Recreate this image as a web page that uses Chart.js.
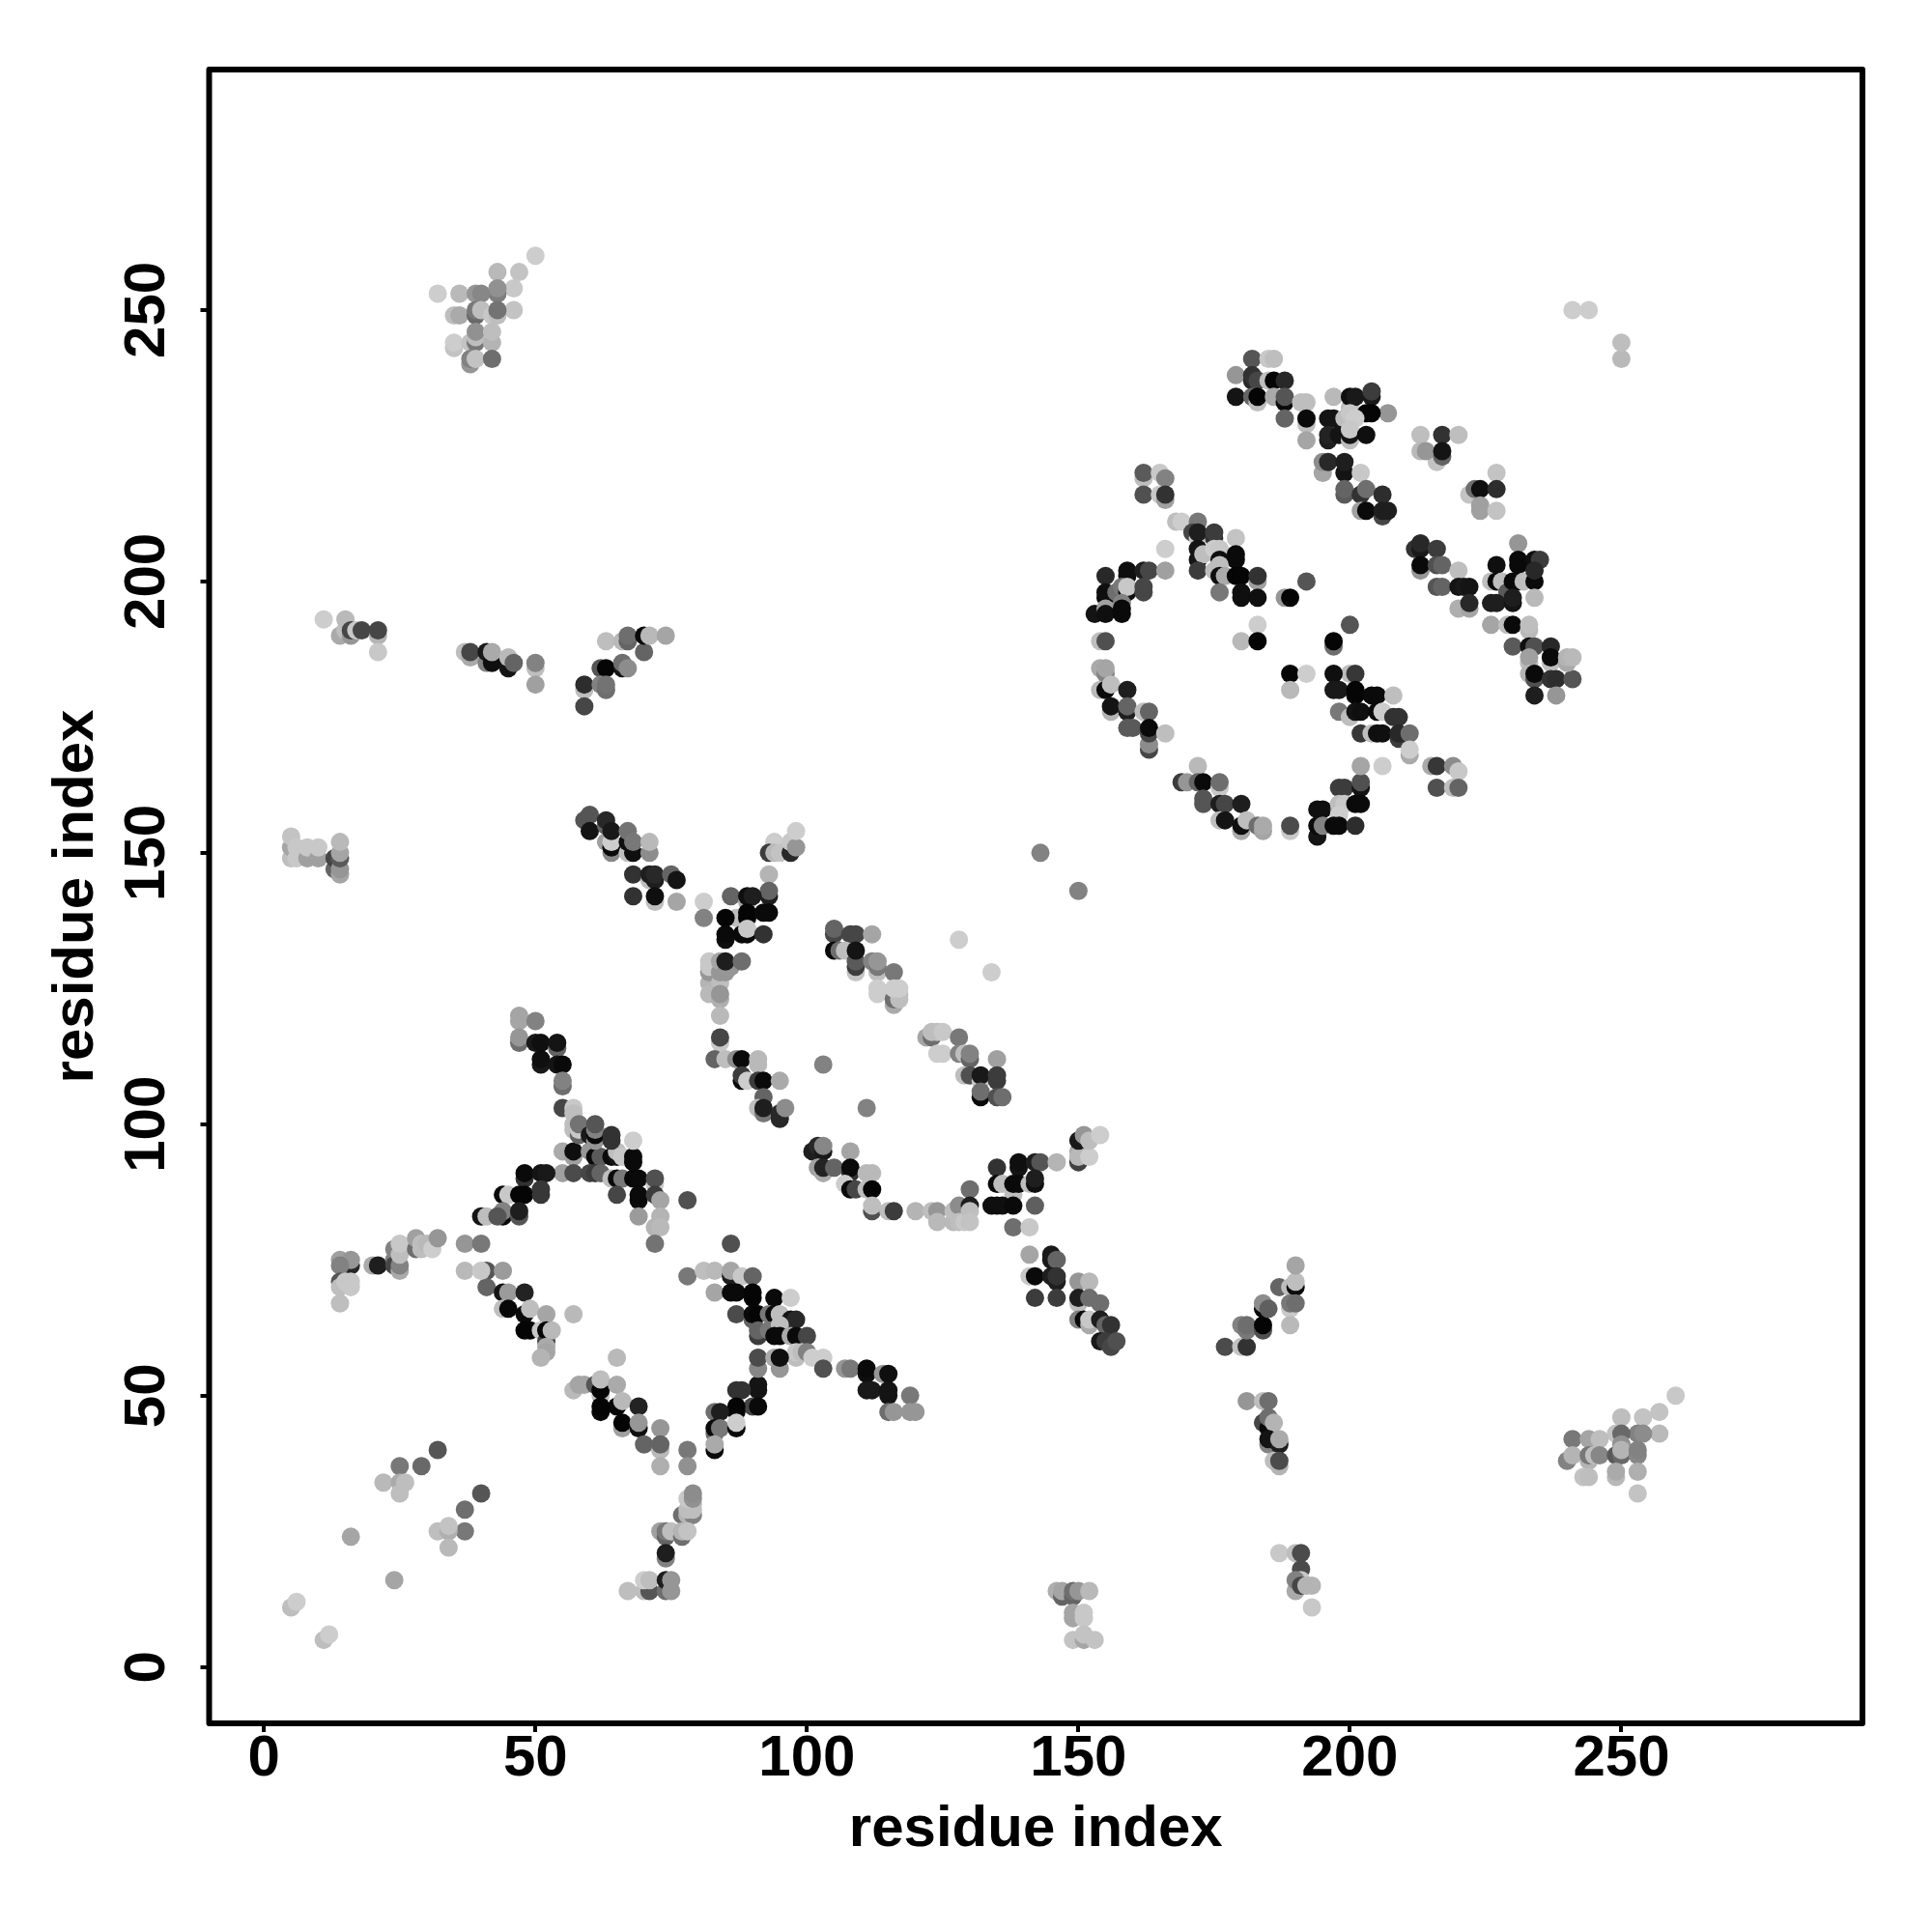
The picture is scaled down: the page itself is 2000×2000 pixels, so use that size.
<!DOCTYPE html>
<html>
<head>
<meta charset="utf-8">
<title>residue contacts</title>
<script src="https://cdn.jsdelivr.net/npm/chart.js@4"></script>
<style>
  html, body { margin: 0; background: #fff; }
  canvas { display: block; }
</style>
</head>
<body>
<div style="width:2000px;height:2000px"><canvas id="chart"></canvas></div>
<script>
// tick values, axis title
const tickValues = [0, 50, 100, 150, 200, 250];
const axisTitle = 'residue index';

// contacts, cluster by cluster: [residue x, residue y, grey level]
// order inside a cluster is paint order
const lowerCorner = [[5,11,190],[6,12,205],[11,5,190],[12,6,205],[24,16,165],[16,24,165],[32,40,85],[29,37,105],[25,37,120],[22,34,185],[25,34,170],[25,32,190],[26,34,190],[40,32,85],[37,29,110],[37,25,120],[32,25,190],[34,25,175],[34,26,195],[34,22,185]];
const armA = [[14,67,190],[14,75,160],[16,74,40],[16,75,150],[14,74,130],[14,71,85],[14,70,190],[15,71,200],[16,70,200],[16,71,200],[20,74,170],[21,74,30],[24,77,130],[24,75,130],[24,74,70],[25,73,170],[25,74,130],[25,76,190],[25,78,200],[28,77,110],[28,79,160],[29,77,190],[29,78,190],[30,78,185],[31,77,205],[32,79,150],[37,78,150],[40,78,120],[37,73,185],[40,73,200]];
const armB = [[41,73,85],[44,73,155],[41,70,100],[44,69,20],[45,69,155],[48,69,35],[44,66,190],[45,66,8],[48,65,10],[49,66,190],[52,65,165],[48,62,5],[49,62,5],[51,62,200],[52,60,70],[52,62,5],[53,62,185],[52,59,170],[52,58,165],[51,57,180],[57,65,185],[65,57,185]];
const armC = [[57,51,185],[58,52,165],[59,52,165],[61,52,85],[62,50,190],[62,51,5],[62,53,190],[62,47,8],[62,48,5],[65,52,170],[65,48,5],[66,49,185],[69,48,35],[66,44,160],[66,45,5],[69,44,15],[69,45,150],[73,44,150],[70,41,100],[73,40,185],[73,41,100],[73,37,175],[78,40,120],[78,37,145]];
const stemA = [[77,28,110],[78,28,180],[79,28,130],[78,29,190],[79,29,190],[79,30,190],[78,31,200],[79,31,145],[79,32,140],[73,25,160],[74,24,100],[74,25,120],[75,25,190],[77,24,110],[77,25,180],[78,25,195],[74,20,130],[74,21,30],[67,14,190],[70,14,190],[71,14,85],[70,16,205],[71,16,190],[74,14,110],[74,16,30],[75,14,150],[75,16,150]];
const patchA = [[47,120,165],[47,119,165],[50,119,130],[47,115,110],[47,116,150],[50,115,25],[51,115,15],[54,114,100],[54,115,20],[51,111,25],[51,112,15],[54,111,20],[55,111,10],[55,107,110],[55,108,130],[55,103,70],[57,103,200],[57,102,190],[57,99,190],[57,100,190],[58,98,100],[58,99,200],[58,100,115],[60,98,25],[61,97,150],[61,98,10],[61,99,130],[61,100,85],[64,97,50],[64,98,50],[68,97,205]];
const patchB = [[55,95,170],[57,94,160],[57,95,15],[55,91,160],[57,91,75],[60,95,150],[61,94,10],[62,94,90],[60,91,70],[61,91,60],[62,91,100],[64,94,10],[65,94,20],[65,95,190],[66,94,200],[68,93,10],[68,94,10],[64,90,190],[65,90,10],[66,90,120],[68,90,8],[69,90,10],[72,89,200],[72,90,80],[65,87,70],[69,86,12],[69,87,10],[72,87,60],[73,86,165],[69,83,155],[73,83,180],[72,81,180],[73,81,185],[72,78,115],[78,86,80]];
const patchC = [[48,90,50],[48,91,10],[51,91,20],[52,91,25],[44,87,10],[45,87,200],[47,87,5],[48,87,5],[51,88,55],[51,87,55],[44,83,10],[44,84,130],[47,83,85],[47,84,30],[40,83,20],[41,83,190],[43,83,85]];
const patchD = [[78,72,120],[81,73,190],[83,73,185],[86,72,30],[86,73,165],[88,72,200],[90,72,100],[86,78,80],[83,69,165],[86,69,10],[87,69,10],[90,68,5],[90,69,5],[94,68,10],[97,68,205],[87,65,75],[90,64,100],[90,65,10],[91,65,5],[93,65,120],[94,65,10],[95,65,190],[97,64,20],[98,64,40],[91,61,60],[91,62,100],[93,62,120],[95,63,190],[94,61,10],[95,61,10],[97,61,170],[98,61,10],[100,61,70],[98,57,190],[98,58,200],[99,58,190],[100,58,130],[101,57,205],[103,57,205],[91,55,135],[91,57,75],[94,57,170],[95,55,150],[95,57,15],[103,55,80],[107,55,150],[108,55,120],[111,54,15],[111,55,10],[114,54,150],[115,54,15],[111,51,25],[112,51,25],[115,50,20],[115,51,20],[119,50,120],[115,47,110],[116,47,150],[119,47,150],[120,47,150]];
const patchE = [[91,51,20],[91,52,20],[87,51,50],[88,51,50],[90,48,70],[91,48,10],[87,47,5],[87,48,5],[83,47,110],[84,47,30],[83,43,110],[83,44,10],[84,44,120],[87,44,10],[87,45,205],[83,40,10],[83,41,170]];
const rowTop = [[59,156,85],[60,157,85],[60,154,20],[63,155,100],[63,156,40],[63,152,160],[64,150,135],[64,151,10],[64,152,205],[64,154,25],[67,150,190],[67,152,15],[67,154,115],[68,150,15],[68,152,120],[71,150,140],[71,152,185],[68,146,50],[71,145,190],[71,146,30],[72,145,30],[72,146,40],[75,146,100],[76,145,20],[68,142,50],[72,141,190],[72,142,15],[76,141,165],[81,141,205],[81,138,130]];
const bowA = [[94,152,205],[93,150,60],[94,150,185],[95,150,195],[97,150,40],[97,152,200],[98,151,150],[98,154,205],[93,146,180],[93,142,30],[93,143,100],[86,142,100],[89,141,170],[89,142,15],[90,142,30],[87,138,190],[85,138,5],[89,139,5],[89,138,5],[92,139,10],[93,139,10],[85,134,15],[85,135,10],[88,135,10],[89,135,10],[89,136,200],[92,135,50]];
const bowB = [[82,126,180],[82,128,150],[82,129,200],[82,130,200],[84,126,190],[84,128,150],[84,130,165],[86,129,150],[85,128,150],[85,130,30],[88,130,110],[82,124,185],[84,123,175],[84,124,150],[84,120,185],[84,115,200],[84,116,70],[83,112,100],[85,112,190],[87,112,140],[88,112,10],[91,111,185],[91,112,185],[88,108,10],[88,109,60],[89,108,205],[91,108,60],[92,108,10],[95,108,170],[92,105,100],[91,103,190],[92,102,120],[92,103,30],[95,101,40],[95,102,40],[96,103,140],[103,111,130],[111,103,130]];
const arcA = [[105,135,70],[105,136,100],[108,135,70],[109,135,70],[112,135,165],[105,132,10],[106,132,110],[107,132,190],[109,128,195],[109,129,60],[109,130,90],[109,132,20],[112,130,130],[113,128,190],[113,129,120],[113,130,150],[116,128,120],[113,124,205],[113,125,205],[116,122,170],[116,123,110],[117,123,190],[117,124,190],[116,125,205],[117,125,205],[128,134,205],[134,128,205]];
const arcB = [[122,116,165],[123,116,110],[123,117,190],[124,117,190],[125,117,200],[128,116,120],[124,113,205],[125,113,205],[128,113,130],[129,113,190],[130,112,100],[130,113,130],[135,112,160],[129,109,190],[130,109,80],[132,108,200],[132,109,25],[135,108,60],[135,109,60],[132,105,10],[132,106,110],[135,105,80],[136,105,110]];
const arcC = [[101,95,30],[102,96,40],[103,95,25],[103,96,135],[108,95,165],[102,92,160],[103,91,170],[103,92,35],[105,92,100],[108,91,50],[108,92,10],[111,91,185],[112,91,185],[107,89,205],[108,88,10],[109,88,70],[111,88,190],[112,88,5],[112,84,80],[112,85,190],[115,84,190],[116,84,60],[120,84,180],[123,84,190],[124,84,150],[124,82,185],[127,82,185],[127,84,190],[128,85,140],[128,82,190],[130,88,110],[129,82,200],[130,85,30],[130,84,190],[130,82,195]];
const arcD = [[135,92,50],[139,92,20],[139,93,15],[142,93,30],[143,93,85],[146,93,180],[135,89,10],[136,89,190],[138,87,190],[138,89,10],[139,89,10],[141,89,190],[142,89,15],[142,90,30],[134,85,15],[135,85,15],[136,85,15],[138,85,10],[142,85,95],[138,81,110],[141,81,200],[150,95,170],[150,93,65],[150,94,185],[152,94,205],[150,97,25],[151,98,150],[152,97,190],[154,98,205],[143,150,130],[150,143,130]];
const rightA = [[141,76,165],[145,75,25],[145,76,25],[146,75,100],[141,72,200],[142,72,10],[146,71,30],[145,72,30],[146,72,50],[142,68,60],[146,68,60],[150,71,150],[152,71,185],[150,67,190],[150,68,30],[152,68,110],[154,67,110],[150,64,130],[151,64,10],[152,63,170],[152,64,200],[154,64,30],[155,63,100],[156,63,50],[154,60,25],[155,60,60],[156,59,70],[157,60,80]];
const rightB = [[177,59,75],[180,59,195],[181,59,50],[180,63,130],[181,62,120],[181,63,110],[184,62,80],[184,63,5],[184,66,10],[184,67,140],[185,66,95],[187,70,100],[189,70,190],[190,70,10],[190,71,190],[190,74,165],[189,66,200],[189,67,120],[190,67,110],[189,63,185]];
const rightC = [[181,49,150],[184,49,190],[185,49,110],[184,45,70],[185,44,10],[185,46,110],[186,45,180],[185,41,130],[185,42,20],[187,41,30],[187,42,170],[186,38,190],[187,37,180],[187,38,75]];
const rightD = [[187,21,200],[190,21,190],[191,21,75],[191,18,75],[191,16,200],[190,14,170],[190,16,130],[191,15,70],[192,15,180],[193,15,180],[193,11,200]];
const rightE = [[146,14,175],[147,13,100],[147,14,165],[149,13,100],[149,14,110],[150,14,150],[152,14,185],[149,9,165],[149,10,165],[151,9,200],[151,10,200],[149,5,195],[151,5,165],[151,6,195],[153,5,195]];
const farRight = [[260,50,200],[257,47,195],[254,46,195],[250,46,190],[257,43,185],[249,43,195],[253,43,130],[254,43,140],[250,43,105],[241,42,120],[244,42,165],[246,42,190],[250,41,145],[240,38,130],[241,39,180],[244,38,180],[244,39,120],[245,39,190],[246,39,135],[249,39,90],[250,39,105],[250,40,180],[253,39,135],[253,40,130],[253,36,175],[249,35,185],[249,36,170],[243,35,195],[244,35,190],[253,32,195]];
const topLeft = [[50,260,205],[47,257,195],[43,257,185],[46,254,200],[43,253,125],[43,254,145],[32,253,205],[36,253,185],[39,253,150],[40,253,135],[46,250,195],[35,249,190],[36,249,170],[39,249,105],[39,250,120],[40,250,190],[42,249,200],[43,249,190],[43,250,115],[35,243,195],[35,244,205],[38,244,195],[39,244,120],[39,245,190],[39,246,145],[42,244,180],[42,246,190],[38,240,150],[38,241,130],[39,241,195],[42,241,110]];
const leftRowA = [[11,193,205],[14,190,170],[15,191,190],[15,193,185],[16,190,150],[16,191,70],[17,191,200],[18,191,70],[21,190,180],[21,191,70],[21,187,200]];
const leftRowB = [[37,187,190],[38,186,170],[38,187,70],[41,185,130],[41,187,25],[42,185,15],[42,187,170],[45,184,20],[45,186,185],[46,185,100],[50,184,190],[50,185,130],[50,181,160]];
const leftRowC = [[63,189,190],[66,189,185],[67,189,100],[67,190,110],[70,187,100],[70,190,10],[71,190,185],[74,190,165],[62,184,85],[63,184,5],[66,184,20],[66,185,110],[67,184,140],[59,180,190],[59,181,45],[62,181,130],[63,180,110],[63,181,115],[59,177,70]];
const leftRowD = [[5,149,190],[5,151,165],[5,153,195],[6,149,200],[6,151,200],[8,149,160],[8,151,200],[10,149,160],[10,151,200],[13,147,100],[13,149,70],[14,146,165],[14,147,150],[14,149,90],[14,150,165],[14,152,185]];
const ringTop = [[182,241,85],[185,241,200],[186,241,190],[179,238,150],[182,237,40],[182,238,50],[183,237,70],[185,237,190],[186,237,5],[188,237,40],[179,234,20],[182,234,100],[183,233,190],[183,234,5],[186,234,170],[188,233,10],[188,234,85],[191,233,190],[192,233,190],[188,230,100],[192,229,190],[192,230,10],[192,226,165]];
const ringTopB = [[197,234,185],[200,232,190],[200,234,15],[201,234,25],[204,234,25],[204,235,60],[207,231,150],[196,230,20],[197,230,20],[199,230,190],[200,231,200],[203,231,5],[204,231,5],[201,230,205],[196,226,30],[196,227,35],[198,227,20],[200,226,190],[200,227,20],[200,228,200],[203,227,15]];
const ringSide = [[213,227,190],[217,227,50],[220,227,190],[216,222,195],[213,224,185],[214,224,150],[217,223,100],[217,224,20],[227,220,195],[222,216,195],[223,217,110],[224,217,15],[227,217,45],[224,213,160],[224,214,160],[227,213,195],[195,220,165],[195,222,140],[196,222,40],[199,220,20],[199,222,30],[202,220,200],[199,216,90],[199,217,100],[202,216,50],[203,217,110],[206,216,45],[206,212,70],[202,213,160],[203,213,10],[206,213,30],[207,213,30]];
const ringUpper = [[162,219,190],[162,220,90],[165,220,200],[166,219,130],[162,216,80],[165,216,200],[166,215,160],[166,216,50],[168,211,190],[169,211,205],[172,211,120],[171,209,70],[172,208,200],[172,209,30],[175,208,50],[175,209,60],[179,208,195],[166,206,205],[172,204,20],[172,206,20],[173,205,190],[175,206,205],[176,206,200],[176,204,15],[179,204,10],[179,205,10],[172,202,60],[176,203,190],[175,202,190],[176,201,15],[177,201,170],[179,201,5],[180,201,5],[183,200,160],[183,201,50],[176,198,120],[180,197,15],[180,198,15],[183,197,15],[188,197,150],[189,197,5],[192,200,85],[183,192,205],[180,189,185],[183,189,5]];
const ringLeft = [[155,201,40],[159,201,15],[159,202,15],[162,202,30],[163,202,70],[166,202,160],[155,197,10],[155,198,15],[157,198,110],[158,199,120],[159,198,15],[159,199,200],[162,198,70],[162,199,70],[158,196,130],[153,194,20],[155,195,160],[155,194,15],[158,194,10],[158,195,10],[154,189,190],[155,189,80],[154,184,170],[155,183,130],[155,184,165],[154,180,185],[155,180,10],[156,181,190],[159,180,30],[156,176,180],[156,177,20],[159,176,30],[159,177,100],[162,176,190],[163,176,100],[159,173,90],[160,173,90],[163,169,70],[163,170,140],[163,172,70],[163,173,10],[166,172,190]];
const ringBottom = [[172,166,185],[169,163,60],[170,163,150],[172,163,100],[173,163,10],[176,162,200],[176,163,110],[173,159,85],[173,160,85],[176,159,30],[177,159,70],[180,159,30],[176,156,190],[177,156,20],[180,154,170],[180,155,15],[181,156,190],[183,155,110],[184,154,165],[184,155,170],[189,154,200],[189,155,75],[194,153,20],[194,155,10],[194,158,15],[195,158,15],[195,155,130],[198,162,60],[199,162,60],[202,162,20],[202,163,80],[202,166,165],[206,166,205],[198,158,120],[198,159,190],[199,159,200],[201,159,10],[202,159,10],[198,157,205],[197,155,10],[198,155,10],[201,155,45]];
const ringInner = [[200,192,85],[197,188,110],[197,189,5],[189,183,5],[192,183,205],[189,180,185],[200,183,190],[197,183,15],[201,183,55],[197,180,25],[198,180,25],[201,179,5],[201,180,5],[204,179,10],[205,179,10],[208,179,190],[198,176,120],[200,175,190],[201,176,20],[202,176,15],[205,176,10],[206,176,205],[208,175,50],[209,175,50],[202,172,55],[204,172,190],[205,172,15],[206,172,15],[209,171,60],[209,172,40],[211,172,110],[211,168,170],[211,169,205],[215,166,170],[216,166,55],[219,166,140],[220,165,200],[216,162,80],[219,162,190],[220,162,100]];
const ringRight = [[212,206,50],[213,206,25],[213,207,40],[216,206,60],[213,202,150],[213,203,10],[216,203,80],[217,203,100],[220,202,190],[216,199,85],[217,199,100],[220,199,20],[221,199,25],[222,199,20],[220,195,175],[222,195,165],[222,196,40],[231,207,150],[227,203,15],[226,200,190],[227,200,10],[228,200,190],[231,203,10],[231,204,10],[234,204,15],[235,204,60],[229,198,90],[230,200,10],[231,200,10],[232,200,190],[234,200,10],[234,202,40],[234,197,185],[226,196,30],[227,196,30],[230,196,20],[230,197,30]];
const ringFar = [[226,192,165],[229,192,190],[230,192,10],[233,191,185],[233,192,190],[230,188,90],[233,188,15],[234,188,80],[237,188,40],[233,185,190],[233,186,160],[237,185,190],[237,186,10],[233,183,180],[234,182,80],[234,183,10],[237,182,50],[238,182,45],[241,182,85],[240,185,170],[240,186,180],[241,186,185],[234,179,30],[238,179,150],[241,250,205],[244,250,205],[250,241,185],[250,244,190]];

const clusters = [lowerCorner, armA, armB, armC, stemA, patchC, patchA, patchB, patchD, patchE, rowTop, bowA, bowB, arcA, arcB, arcC, arcD, rightA, rightB, rightC, rightD, rightE, farRight, topLeft, leftRowA, leftRowB, leftRowC, leftRowD, ringTop, ringTopB, ringSide, ringUpper, ringLeft, ringBottom, ringInner, ringRight, ringFar];

const grey = g => `rgb(${g},${g},${g})`;
const labelFont = { family: 'Liberation Sans', size: 60, weight: 'bold' };

// R style box round the panel
const boxPlugin = {
  id: 'box',
  afterDraw(chart) {
    const { ctx, chartArea: a } = chart;
    ctx.save();
    ctx.strokeStyle = '#000';
    ctx.lineWidth = 6;
    ctx.lineJoin = 'round';
    ctx.strokeRect(a.left, a.top, a.right - a.left, a.bottom - a.top);
    ctx.restore();
  }
};

new Chart(document.getElementById('chart'), {
  type: 'scatter',
  data: {
    datasets: clusters.map(points => ({
      data: points.map(p => ({ x: p[0], y: p[1] })),
      pointRadius: 9.5,
      pointBorderWidth: 0,
      pointBackgroundColor: points.map(p => grey(p[2]))
    }))
  },
  options: {
    responsive: true,
    maintainAspectRatio: false,
    animation: false,
    layout: { padding: { top: 72, right: 72 } },
    plugins: { legend: { display: false }, tooltip: { enabled: false } },
    scales: {
      x: {
        type: 'linear',
        min: -10.1,
        max: 294.4,
        afterBuildTicks: s => { s.ticks = tickValues.map(v => ({ value: v })); },
        afterFit: s => { s.height = 216; },
        border: { display: false },
        grid: { drawOnChartArea: false, drawTicks: true, color: '#000', lineWidth: 4, tickLength: 9 },
        ticks: { color: '#000', padding: -8, maxRotation: 0, font: labelFont },
        title: { display: true, text: axisTitle, color: '#000', padding: { top: 0, bottom: 70 }, font: labelFont }
      },
      y: {
        type: 'linear',
        min: -10.37,
        max: 294.3,
        afterBuildTicks: s => { s.ticks = tickValues.map(v => ({ value: v })); },
        afterFit: s => { s.width = 216.5; },
        border: { display: false },
        grid: { drawOnChartArea: false, drawTicks: true, color: '#000', lineWidth: 4, tickLength: 9 },
        ticks: { color: '#000', padding: 4, minRotation: 90, maxRotation: 90, crossAlign: 'center', font: labelFont },
        title: { display: true, text: axisTitle, color: '#000', padding: { top: 43, bottom: 0 }, font: labelFont }
      }
    }
  },
  plugins: [boxPlugin]
});
</script>
</body>
</html>
